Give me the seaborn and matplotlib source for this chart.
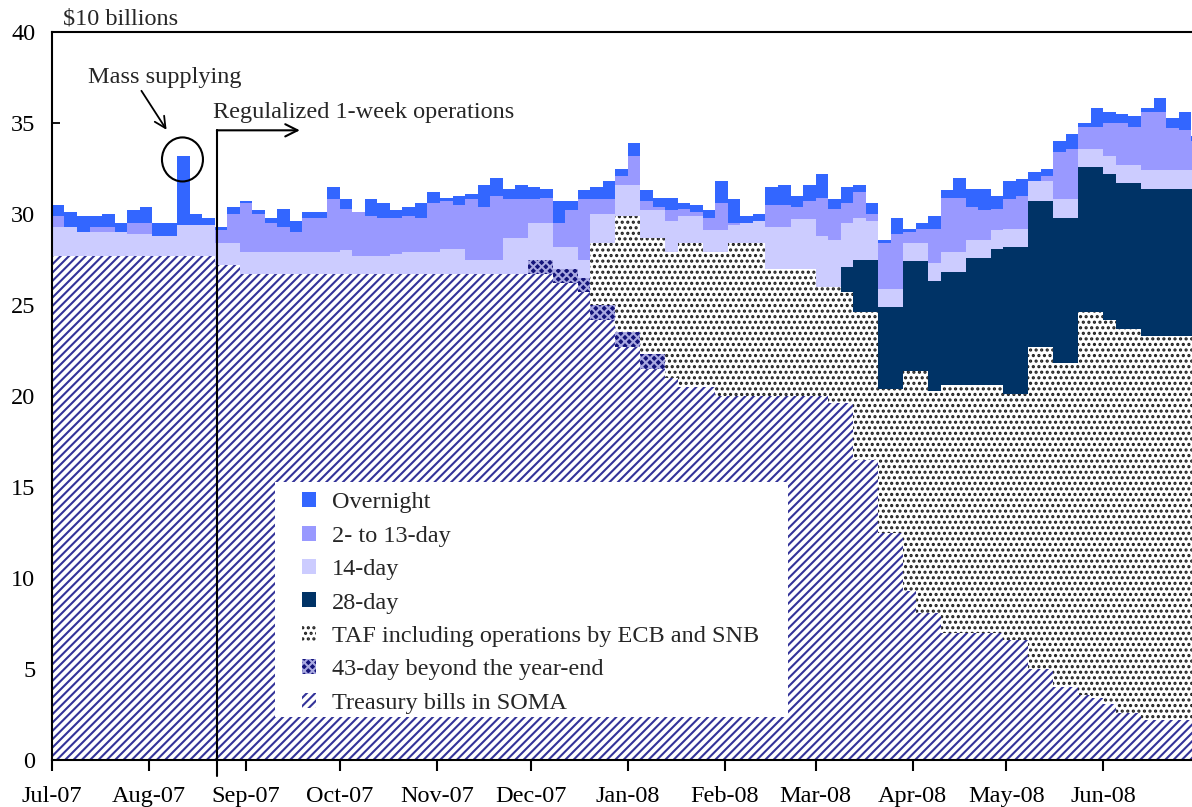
import numpy as np
import pandas as pd
import matplotlib
matplotlib.use('Agg')
import matplotlib.pyplot as plt
from matplotlib.patches import Patch, Ellipse, Rectangle
from matplotlib.colors import to_rgb
import seaborn as sns

# outstanding amounts, $10 billions, in 4-day buckets from 1 Jul 2007
start = pd.Timestamp('2007-07-01')
dates = pd.date_range(start, periods=92, freq='4D')

tbills = ([27.7] * 13 + [27.2] * 2 + [26.7] * 25 + [26.2] * 2 + [25.7] + [24.2] * 2
          + [22.7] * 2 + [21.5] * 2 + [21.0] + [20.5] * 3 + [20.0] * 9 + [19.6] * 2
          + [16.5] * 2 + [12.5] * 2 + [9.3] + [8.1] * 2 + [7.0] * 5 + [6.6] * 2
          + [5.0] * 2 + [4.0] * 2 + [3.6, 3.4, 3.1] + [2.6] * 2 + [2.2] * 5)

day43 = [0.0] * 38 + [0.8] * 11 + [0.0] * 43

taf = ([0.0] * 43
       + [3.4, 3.4, 6.4, 6.4, 6.4, 6.4, 6.9, 7.9, 7.9, 7.4, 7.9, 8.4, 8.4, 8.4,
          7.0, 7.0, 7.0, 7.0, 6.0, 6.4, 6.1, 8.1, 8.1, 7.9, 7.9, 12.1, 13.3, 12.2,
          13.6, 13.6, 13.6, 13.6, 13.6, 13.5, 13.5, 17.7, 17.7, 17.8, 17.8,
          21.0, 21.2, 21.1]
       + [21.1] * 7)

day28 = ([0.0] * 63
         + [1.4, 2.9, 2.9, 4.5, 4.5, 6.0, 6.0, 6.0, 6.2, 6.2, 7.0, 7.0, 7.5, 8.1, 8.1]
         + [8.0] * 9 + [8.1] * 5)

day14 = [1.6, 1.6, 1.3, 1.3, 1.3, 1.3, 1.2, 1.2, 1.1, 1.1,
         1.7, 1.7, 1.7, 1.2, 1.2, 1.2, 1.2, 1.2, 1.2, 1.2,
         1.2, 1.2, 1.2, 1.3, 1.0, 1.0, 1.0, 1.1, 1.2, 1.2,
         1.2, 1.4, 1.4, 0.8, 0.8, 0.8, 2.0, 2.0, 2.0, 2.0,
         1.2, 1.2, 1.0, 1.6, 1.6, 1.7, 1.7, 1.5, 1.5, 1.7,
         1.5, 1.5, 1.2, 1.2, 1.0, 1.1, 1.2, 2.3, 2.3, 2.7,
         2.7, 2.8, 2.6, 2.4, 2.3, 2.1, 1.0, 1.0, 1.0, 1.0,
         1.0, 1.1, 1.1, 1.0, 1.0, 1.0, 1.0, 1.0, 1.1, 1.1,
         1.0, 1.0, 1.0, 1.0, 1.0, 1.0, 1.0, 1.0, 1.0, 1.0,
         1.0, 1.0]

day2_13 = [0.6, 0.0, 0.0, 0.3, 0.3, 0.0, 0.6, 0.6, 0.0, 0.0,
           0.0, 0.0, 0.0, 0.7, 1.6, 2.7, 2.1, 1.6, 1.4, 1.1,
           1.9, 1.9, 2.9, 2.3, 2.4, 2.2, 2.1, 2.0, 2.0, 1.9,
           2.7, 2.6, 2.4, 3.3, 2.9, 3.5, 2.1, 2.1, 1.3, 1.4,
           1.3, 2.0, 3.3, 0.8, 0.8, 0.5, 1.6, 0.5, 0.2, 0.6,
           0.4, 0.2, 0.7, 1.5, 0.1, 0.0, 0.0, 1.2, 1.2, 0.7,
           1.0, 2.1, 1.7, 1.1, 1.4, 0.4, 2.5, 3.0, 0.6, 0.8,
           1.9, 3.0, 3.0, 1.8, 1.6, 1.2, 1.6, 1.8, 0.0, 0.3,
           2.6, 2.8, 1.2, 1.2, 1.8, 2.3, 2.1, 3.2, 3.2, 2.3,
           2.2, 1.6]

overnight = [0.6, 0.8, 0.9, 0.6, 0.7, 0.5, 0.7, 0.9, 0.7, 0.7,
             3.8, 0.6, 0.4, 0.2, 0.4, 0.1, 0.2, 0.3, 1.0, 0.6,
             0.3, 0.3, 0.7, 0.5, 0.0, 0.9, 0.8, 0.4, 0.5, 0.8,
             0.6, 0.2, 0.5, 0.3, 1.2, 1.0, 0.6, 0.8, 0.7, 0.5,
             1.2, 0.5, 0.5, 0.7, 1.0, 0.4, 0.7, 0.6, 0.5, 0.7,
             0.3, 0.4, 0.4, 1.2, 1.3, 0.4, 0.4, 1.0, 1.1, 0.6,
             0.9, 1.3, 0.5, 0.9, 0.4, 0.6, 0.2, 0.9, 0.2, 0.3,
             0.7, 0.4, 1.1, 1.0, 1.2, 0.7, 1.0, 0.9, 0.5, 0.4,
             0.6, 0.8, 0.2, 1.0, 0.6, 0.5, 0.6, 0.2, 0.8, 0.6,
             1.0, 0.3]

# top of the stack first (seaborn stacks the last hue level at the bottom)
series = ['Overnight', '2- to 13-day', '14-day', '28-day',
          'TAF including operations by ECB and SNB',
          '43-day beyond the year-end', 'Treasury bills in SOMA']
values = [overnight, day2_13, day14, day28, taf, day43, tbills]
colors = ['#3366ff', '#9999ff', '#ccccff', '#003366', '#4d4d4d', '#14147a', '#333399']
hatches = [None, None, None, None, '...', 'xxxx', '////']
faces = [None, None, None, None, 'white', '#14147a', 'white']
hatch_cols = [None, None, None, None, '#1e1e1e', '#a8a8e0', '#333399']

day = (dates - start).days.values
edges = list(day) + [day[-1] + 4]
df = pd.DataFrame({
    'day': np.tile(day, len(series)),
    'value': np.concatenate(values),
    'series': np.repeat(series, len(day)),
})

FS = 17.5
sns.set_theme(style='ticks')
plt.rcParams['font.family'] = ['Liberation Serif', 'DejaVu Serif']
plt.rcParams['font.size'] = FS
plt.rcParams['hatch.linewidth'] = 1.5

fig = plt.figure(figsize=(11.92, 8.07), dpi=100)
ax = fig.add_axes([0.0436, 0.0582, 0.9564, 0.9021])

sns.histplot(data=df, x='day', weights='value', hue='series', hue_order=series,
             multiple='stack', element='step', bins=edges,
             palette=dict(zip(series, colors)), alpha=1, linewidth=0,
             legend=False, ax=ax)

for coll in ax.collections:
    rgb = coll.get_facecolor()[0][:3]
    for col, h, fc, hc in zip(colors, hatches, faces, hatch_cols):
        if h and np.allclose(rgb, to_rgb(col), atol=0.01):
            coll.set_facecolor(fc)
            coll.set_edgecolor(hc)
            coll.set_hatch(h)
            coll.set_linewidth(0)

ax.set_xlim(0, 364.3)
ax.set_ylim(0, 40)
ax.set_yticks(range(0, 41, 5))
months = pd.date_range('2007-07-01', '2008-06-01', freq='MS')
ax.set_xticks((months - start).days)
ax.set_xticklabels(months.strftime('%b-%y'))
ax.set_xlabel('')
ax.set_ylabel('')

for side in ['left', 'bottom', 'top']:
    ax.spines[side].set_color('black')
    ax.spines[side].set_linewidth(1.5)
ax.spines['right'].set_visible(False)
ax.tick_params(axis='y', direction='in', length=6, width=1.3, pad=12,
               colors='black', labelsize=FS)
ax.tick_params(axis='x', direction='out', length=8, width=1.5, pad=11,
               colors='black', labelsize=FS)

ax.text(0.01, 1.003, '$10 billions', transform=ax.transAxes, ha='left', va='bottom',
        fontsize=FS)

# annotations
ax.text(11.5, 37.5, 'Mass supplying', ha='left', va='center', fontsize=FS, zorder=6)
ax.annotate('', xy=(37.1, 34.5), xytext=(28.1, 36.9),
            arrowprops=dict(arrowstyle='->', color='black', lw=1.3, mutation_scale=20))
ax.add_patch(Ellipse((41.7, 33.0), width=13.1, height=2.42, fill=False,
                     edgecolor='black', lw=1.5, zorder=6))
ax.plot([52.7, 52.7], [-0.9, 34.6], color='black', lw=1.5, clip_on=False, zorder=6)
ax.annotate('', xy=(79.2, 34.6), xytext=(52.7, 34.6),
            arrowprops=dict(arrowstyle='->', color='black', lw=1.5,
                            shrinkA=0, shrinkB=0, mutation_scale=22))
ax.text(51.4, 35.6, 'Regulalized 1-week operations', ha='left', va='center',
        fontsize=FS, zorder=6)

# legend on a white panel
ax.add_patch(Rectangle((0.1956, 0.059), 0.45, 0.3227, transform=ax.transAxes,
                       facecolor='white', edgecolor='none', zorder=4))
handles = []
for name, col, h, fc, hc in zip(series, colors, hatches, faces, hatch_cols):
    if h:
        handles.append(Patch(facecolor=fc, edgecolor=hc, hatch=h, linewidth=0, label=name))
    else:
        handles.append(Patch(facecolor=col, edgecolor='none', label=name))
leg = ax.legend(handles=handles, loc='upper left', bbox_to_anchor=(0.2193, 0.368),
                frameon=False, borderpad=0, borderaxespad=0, handlelength=0.58,
                handleheight=0.58, handletextpad=0.66, labelspacing=0.505,
                fontsize=FS)
leg.set_zorder(5)

fig.savefig('out.png', dpi=100)
